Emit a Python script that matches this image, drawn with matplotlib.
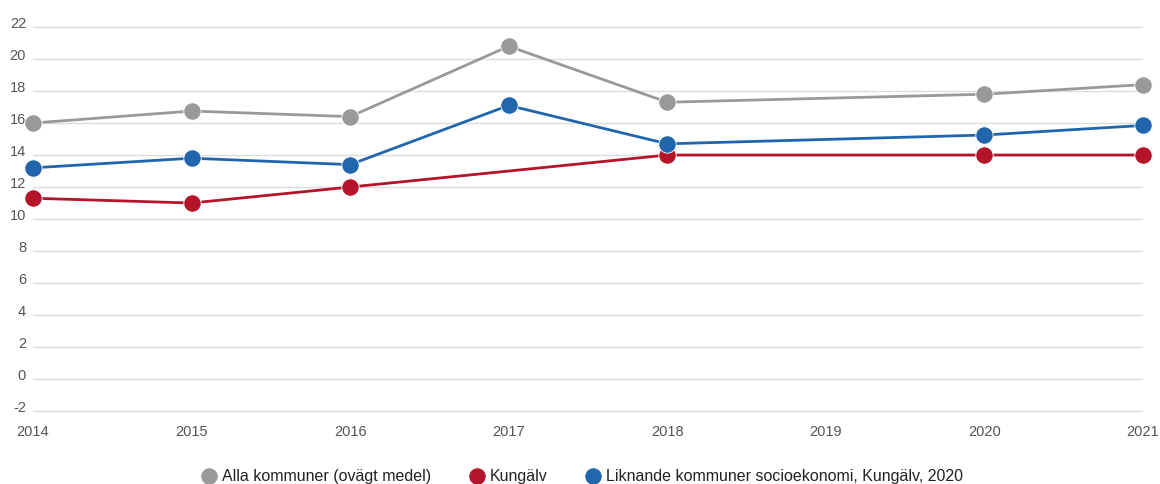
import numpy as np
import matplotlib
matplotlib.use('Agg')
from matplotlib import pyplot as plt
import matplotlib.transforms as mtransforms

plt.rcParams['font.family'] = ['Liberation Sans', 'DejaVu Sans']
plt.rcParams['axes.unicode_minus'] = False

# Data
years = [2014, 2015, 2016, 2017, 2018, 2019, 2020, 2021]
alla = [16.0, 16.75, 16.4, 20.8, 17.3, np.nan, 17.8, 18.4]
kungalv = [11.3, 11.0, 12.0, np.nan, 14.0, np.nan, 14.0, 14.0]
liknande = [13.2, 13.8, 13.4, 17.1, 14.7, np.nan, 15.25, 15.85]
yticks = list(range(-2, 23, 2))

series = [
    ('Alla kommuner (ovägt medel)', alla, '#999999'),
    ('Kungälv', kungalv, '#b5152b'),
    ('Liknande kommuner socioekonomi, Kungälv, 2020', liknande, '#2166ac'),
]

# 16 px per unit, -2 sits at pixel row 411
fig = plt.figure(figsize=(11.6, 4.84), dpi=100)
ax = fig.add_axes([33 / 1160, 71 / 484, 1110 / 1160, 413 / 484])

handles = []
for label, vals, color in series:
    x = np.array(years, dtype=float)
    y = np.array(vals, dtype=float)
    ok = ~np.isnan(y)
    ax.plot(x[ok], y[ok], color=color, lw=2, zorder=3)
    h, = ax.plot(x[ok], y[ok], lw=0, marker='o', ms=12.5, color=color,
                 markeredgecolor='white', markeredgewidth=0.6, zorder=4,
                 clip_on=False, label=label)
    handles.append(h)

ax.set_xlim(2014, 2021)
ax.set_ylim(-2.125, 23.69)
ax.set_yticks(yticks)
ax.set_xticks(years)
ax.grid(axis='y', color='#dddddd', lw=1)
ax.set_axisbelow(True)
for s in ax.spines.values():
    s.set_visible(False)
ax.tick_params(length=0, colors='#555555', labelsize=10.5)
ax.tick_params(axis='y', pad=5)
ax.tick_params(axis='x', pad=9)

# nudge y labels slightly above their gridline
off = mtransforms.ScaledTranslation(0, 5 / 100, fig.dpi_scale_trans)
for lbl in ax.get_yticklabels():
    lbl.set_transform(lbl.get_transform() + off)

fig.legend(handles=handles, loc='center', bbox_to_anchor=(0.502, 1 - 477 / 484),
           ncol=3, frameon=False, fontsize=11.5, handlelength=0.9,
           handletextpad=0.35, columnspacing=2.4, labelcolor='#222222')

plt.savefig('out.png', dpi=100)
